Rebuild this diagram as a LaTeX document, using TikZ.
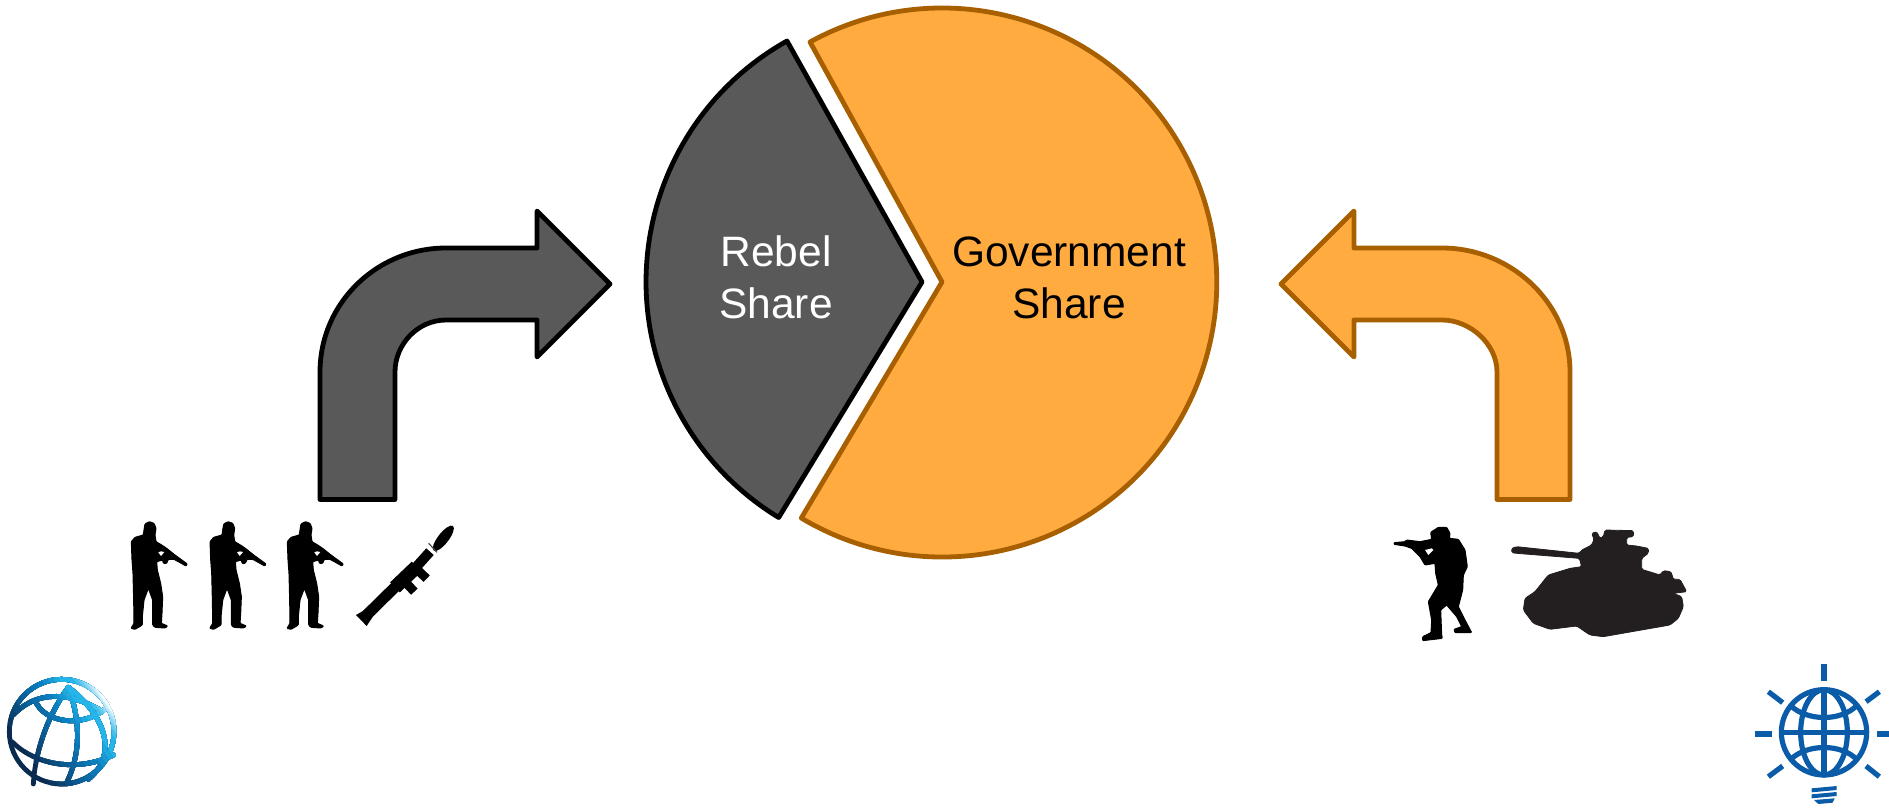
\documentclass[tikz,border=0pt]{standalone}
\usepackage{fontspec}
\setmainfont{Liberation Sans}
\definecolor{grayfill}{HTML}{595959}
\definecolor{orfill}{HTML}{FFAB40}
\definecolor{orline}{HTML}{A85F00}
\definecolor{tankc}{HTML}{231F20}
\definecolor{ibrd}{HTML}{0B5CA8}
\definecolor{wba}{HTML}{0A2A50}
\definecolor{wbb}{HTML}{0A5A90}
\definecolor{wbc}{HTML}{0A80C0}
\definecolor{wbd}{HTML}{25B5E8}
\tikzset{
  rebelshape/.style={draw=black,fill=grayfill,line width=4.8pt,line join=round},
  govshape/.style={draw=orline,fill=orfill,line width=4.8pt,line join=round},
  label/.style={font=\fontsize{42.5}{52}\selectfont,align=center,inner sep=0pt},
  zoomed/.style={x=0.33333pt,y=-0.33333pt},
  bulbline/.style={draw=ibrd,line width=5.2pt},
  wbline/.style={line width=4.8pt,line cap=round},
  silh/.style={fill=black,draw=black,line width=1pt,line join=round,rounded corners=0.8pt},
  rpg/.style={draw=black,line cap=butt},
}
\newcommand{\soldierpath}{
  (132,90)--(135,72)--(148,65)--(162,70)--(168,85)--(165,105)--(168,125)--(185,135)--(200,145)--(225,165)--(262,192)--(258,198)--(235,185)--(222,178)--(205,178)--(200,190)--(190,190)--(188,180)--(170,185)--(172,210)--(182,250)--(188,290)--(186,340)--(184,370)--(203,378)--(195,384)--(165,382)--(158,375)--(158,300)--(145,265)--(132,300)--(127,350)--(127,375)--(105,388)--(93,385)--(102,370)--(101,300)--(99,220)--(96,180)--(94,125)--(105,112)--(130,105)--cycle
}
\newcommand{\wbstrokes}[1]{
  \draw[wbline,draw=#1] (185,215) circle[radius=157];
  \draw[wbline,draw=#1] (205,82) .. controls (140,170) and (105,280) .. (100,372);
  \draw[wbline,draw=#1] (205,82) .. controls (245,190) and (240,290) .. (198,372);
  \draw[wbline,draw=#1] (205,82) .. controls (310,160) and (360,280) .. (265,358);
  \draw[wbline,draw=#1] (40,165) .. controls (90,110) and (180,80) .. (300,150);
  \draw[wbline,draw=#1] (105,120) .. controls (130,190) and (250,205) .. (318,145);
  \draw[wbline,draw=#1] (36,245) .. controls (110,320) and (240,335) .. (340,285);
}
\begin{document}
\begin{tikzpicture}[x=1pt,y=-1pt]
\useasboundingbox (0,0) rectangle (1889,808);
% pie
\draw[rebelshape] (922,282) -- (787,41) arc[start angle=119.3,end angle=238.7,radius=276pt] -- cycle;
\draw[govshape] (942,282) -- (810,42) arc[start angle=118.8,end angle=-120.9,radius=274.5pt] -- cycle;
\node[label,text=white] (rebel) at (776,277.5) {Rebel\\Share};
\node[label,text=black] (gov) at (1069,277.5) {Government\\Share};
% arrows
\draw[rebelshape] (320,499.5) -- (320,372) .. controls (320,303) and (377,248) .. (446,248) -- (537,248) -- (537,211) -- (610,284) -- (537,357) -- (537,320) -- (446,320) .. controls (418,320) and (395,344) .. (395,372) -- (395,499.5) -- cycle;
\draw[govshape] (1570,499.5) -- (1570,372) .. controls (1570,303) and (1511,248) .. (1442,248) -- (1354,248) -- (1354,211) -- (1281,284) -- (1354,357) -- (1354,320) -- (1442,320) .. controls (1470,320) and (1497,344) .. (1497,372) -- (1497,499.5) -- cycle;
% rebels
\foreach \dx in {100,178.7,256}{
  \begin{scope}[shift={(\dx pt,-500pt)},zoomed]
    \fill[silh] \soldierpath;
    \fill[white] (183,168)--(175,157)--(183,154)--(193,156)--cycle;
  \end{scope}
}
\begin{scope}[shift={(100pt,-500pt)},zoomed]
  \fill[black] (768,345)--(800,378)--(825,340)--(808,322)--cycle;
  \draw[rpg,line width=11pt] (800,345) -- (925,222);
  \draw[rpg,line width=14pt] (885,262) -- (950,200);
  \draw[rpg,line width=9pt] (915,245) -- (943,275);
  \draw[rpg,line width=9pt] (955,212) -- (980,236);
  \draw[rpg,line width=10pt] (945,205) -- (990,155);
  \fill[black,rotate around={52:(1030,115)}] (1030,115) ellipse[x radius=47,y radius=16];
  \draw[rpg,line width=1.2pt,draw=black!70] (986,130) -- (1011,157);
\end{scope}
% government
\begin{scope}[shift={(1370pt,-500pt)},zoomed]
  \fill[silh] (72,128)--(105,125)--(110,120)--(150,125)--(185,118)--(182,97)--(205,82)--(230,82)--(240,100)--(238,115)--(265,118)--(285,150)--(292,200)--(280,225)--(278,270)--(265,320)--(285,360)--(305,398)--(255,398)--(252,388)--(275,380)--(260,350)--(230,315)--(212,330)--(215,405)--(217,415)--(158,422)--(158,410)--(183,398)--(185,360)--(175,305)--(205,255)--(197,220)--(195,190)--(165,195)--(150,170)--(125,145)--(105,138)--(72,133)--cycle;
  \fill[white] (175,165)--(165,150)--(185,145)--(190,150)--cycle;
  \fill[fill=tankc,draw=tankc,line width=0.8pt,rounded corners=1.5pt] (425,145)--(440,140)--(628,160)--(635,150)--(665,135)--(672,118)--(665,100)--(680,95)--(690,115)--(700,110)--(705,90)--(790,92)--(790,110)--(770,112)--(770,135)--(800,138)--(835,145)--(835,160)--(815,175)--(815,208)--(870,225)--(880,212)--(903,215)--(910,238)--(930,238)--(950,275)--(910,280)--(935,290)--(940,320)--(925,355)--(900,375)--(700,410)--(660,405)--(620,378)--(540,388)--(490,370)--(460,330)--(465,295)--(495,275)--(535,225)--(600,205)--(635,200)--(628,175)--(440,160)--(425,158)--cycle;
\end{scope}
% World Bank globe: its strokes are painted band by band along a gradient
\begin{scope}[shift={(0pt,-660pt)},zoomed]
  \foreach \p/\c in {-180/wba,-120/wba!75!wbb,-100/wba!50!wbb,-80/wba!25!wbb,-60/wbb,-40/wbb!75!wbc,-20/wbb!50!wbc,0/wbb!25!wbc,20/wbc,40/wbc!75!wbd,55/wbc!50!wbd,70/wbc!25!wbd,85/wbd,120/wbd!85!white,130/wbd!70!white,138/wbd!55!white,145/wbd!40!white,151/wbd!25!white,156/wbd!10!white,160/white}{
    \begin{scope}
      \clip[rotate around={35:(185,215)}] (185+\p,-200) rectangle (700,700);
      \wbstrokes{\c}
    \end{scope}
  }
\end{scope}
% Bulb globe
\begin{scope}[shift={(1740pt,-650pt)},zoomed]
  \draw[bulbline] (252,247) circle[radius=128];
  \draw[bulbline] (252,120) -- (252,375);
  \draw[bulbline] (124,247) -- (380,247);
  \draw[bulbline] (252,247) circle[x radius=70,y radius=128];
  \draw[bulbline] (150,165) .. controls (200,215) and (305,215) .. (352,165);
  \draw[bulbline] (150,330) .. controls (200,280) and (305,280) .. (352,330);
  \draw[bulbline] (252,42) -- (252,92);
  \draw[bulbline] (412,252) -- (447,252);
  \draw[bulbline] (45,252) -- (95,252);
  \draw[bulbline] (85,125) -- (128,158);
  \draw[bulbline] (418,125) -- (378,155);
  \draw[bulbline] (85,380) -- (128,348);
  \draw[bulbline] (418,380) -- (378,348);
  \fill[ibrd] (215,415)--(290,408)--(290,420)--(215,427)--cycle;
  \fill[ibrd] (215,433)--(290,426)--(290,438)--(215,445)--cycle;
  \fill[ibrd] (222,450)--(284,445)--(278,458)--(235,462)--cycle;
\end{scope}
\end{tikzpicture}
\end{document}
